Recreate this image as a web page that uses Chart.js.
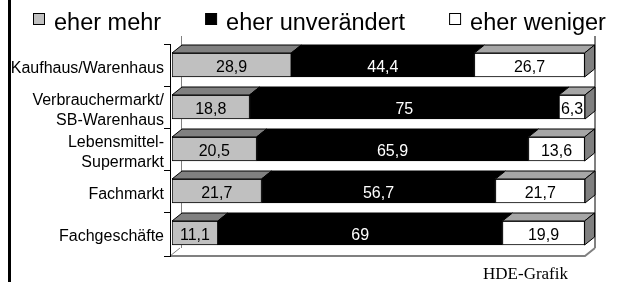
<!DOCTYPE html>
<html><head><meta charset="utf-8">
<script src="https://cdn.jsdelivr.net/npm/chart.js@4/dist/chart.umd.min.js"></script>
<style>html,body{margin:0;padding:0;background:#fff;overflow:hidden}#wrap{width:619px;height:282px;position:relative}</style>
</head><body><div id="wrap"><canvas id="c" width="619" height="282"></canvas></div>
<script>
const categories = ['Kaufhaus/Warenhaus', ['Verbrauchermarkt/', 'SB-Warenhaus'], ['Lebensmittel-', 'Supermarkt'], 'Fachmarkt', 'Fachgeschäfte'];
const seriesNames = ['eher mehr', 'eher unverändert', 'eher weniger'];
const eherMehr = [28.9, 18.8, 20.5, 21.7, 11.1];
const eherUnveraendert = [44.4, 75, 65.9, 56.7, 69];
const eherWeniger = [26.7, 6.3, 13.6, 21.7, 19.9];
const sourceLabel = 'HDE-Grafik';

const SANS = "'Liberation Sans', Arial, sans-serif";
const SERIF = "'Liberation Serif', 'Times New Roman', serif";
const fills = ['#c0c0c0', '#000000', '#ffffff'];
const topFills = ['#808080', '#000000', '#a6a6a6'];
const labelColors = ['#000', '#fff', '#000'];
const DX = 10, DY = -8;

const frame3d = {
  id: 'frame3d',
  beforeDatasetsDraw(chart) {
    const ctx = chart.ctx, a = chart.chartArea;
    const floorY = a.bottom + 2;
    ctx.save();
    ctx.strokeStyle = '#808080';
    ctx.lineWidth = 1;
    ctx.beginPath();
    ctx.moveTo(a.left + DX - 0.5, a.top + DY);
    ctx.lineTo(a.left + DX - 0.5, floorY + DY);
    ctx.stroke();
    ctx.lineWidth = 2;
    ctx.beginPath();
    ctx.moveTo(a.right + DX, a.top + DY);
    ctx.lineTo(a.right + DX, floorY + DY);
    ctx.stroke();
    ctx.lineWidth = 2;
    ctx.beginPath();
    ctx.moveTo(a.left - 2, floorY);
    ctx.lineTo(a.right, floorY);
    ctx.lineTo(a.right + DX, floorY + DY);
    ctx.stroke();
    ctx.lineWidth = 1;
    ctx.beginPath();
    ctx.moveTo(a.left - 2, floorY);
    ctx.lineTo(a.left + DX - 2, floorY + DY);
    ctx.stroke();
    ctx.strokeStyle = '#000';
    ctx.lineWidth = 1;
    ctx.beginPath();
    ctx.moveTo(a.left - 1.5, a.top);
    ctx.lineTo(a.left - 1.5, floorY + 1);
    const n = chart.data.labels.length;
    for (let i = 0; i <= n; i++) {
      const y = Math.round(a.top + i * (a.bottom - a.top) / n) + 0.5 + (i === n ? 2 : 0);
      ctx.moveTo(a.left - 8, y);
      ctx.lineTo(a.left - 1, y);
    }
    ctx.stroke();
    ctx.restore();
  },
  afterDatasetsDraw(chart) {
    const ctx = chart.ctx;
    const nd = chart.data.datasets.length;
    const metas = chart.data.datasets.map((d, i) => chart.getDatasetMeta(i));
    ctx.save();
    ctx.lineWidth = 1;
    ctx.strokeStyle = '#000';
    const n = chart.data.labels.length;
    for (let j = 0; j < n; j++) {
      for (let i = 0; i < nd; i++) {
        const el = metas[i].data[j];
        const xl = Math.min(el.base, el.x), xr = Math.max(el.base, el.x);
        const top = el.y - el.height / 2;
        const bot = el.y + el.height / 2;
        ctx.fillStyle = topFills[i];
        ctx.beginPath();
        ctx.moveTo(xl, top);
        ctx.lineTo(xl + DX, top + DY);
        ctx.lineTo(xr + DX, top + DY);
        ctx.lineTo(xr, top);
        ctx.closePath();
        ctx.fill();
        ctx.stroke();
        if (i === nd - 1) {
          ctx.fillStyle = '#808080';
          ctx.beginPath();
          ctx.moveTo(xr, top);
          ctx.lineTo(xr + DX, top + DY);
          ctx.lineTo(xr + DX, bot + DY);
          ctx.lineTo(xr, bot);
          ctx.closePath();
          ctx.fill();
          ctx.stroke();
        }
      }
    }
    ctx.font = '16px ' + SANS;
    ctx.textAlign = 'center';
    ctx.textBaseline = 'middle';
    for (let i = 0; i < nd; i++) {
      const ds = chart.data.datasets[i];
      metas[i].data.forEach((el, j) => {
        const v = ds.data[j];
        ctx.fillStyle = labelColors[i];
        ctx.fillText(String(v).replace('.', ','), (el.base + el.x) / 2, el.y + 3);
      });
    }
    ctx.restore();
  },
  afterDraw(chart) {
    const ctx = chart.ctx;
    ctx.save();
    ctx.fillStyle = '#000';
    ctx.fillRect(8, 0, 3, chart.height);
    ctx.font = '23.5px ' + SANS;
    ctx.textBaseline = 'alphabetic';
    ctx.textAlign = 'left';
    let x = 33;
    chart.data.datasets.forEach((ds, i) => {
      ctx.fillStyle = ds.backgroundColor;
      ctx.fillRect(x + 0.5, 13.5, 11, 11);
      ctx.strokeStyle = '#000';
      ctx.lineWidth = 1;
      ctx.strokeRect(x + 0.5, 13.5, 11, 11);
      ctx.fillStyle = '#000';
      ctx.fillText(ds.label, x + 21, 30);
      x += 21 + ctx.measureText(ds.label).width + 44;
    });
    ctx.font = '17px ' + SERIF;
    ctx.textAlign = 'right';
    ctx.fillText(sourceLabel, 568, 279);
    ctx.restore();
  }
};

const seriesValues = [eherMehr, eherUnveraendert, eherWeniger];
new Chart(document.getElementById('c'), {
  type: 'bar',
  data: {
    labels: categories,
    datasets: seriesNames.map((name, i) => ({
      label: name,
      data: seriesValues[i],
      backgroundColor: fills[i],
      borderColor: '#000',
      borderWidth: 1,
      borderSkipped: false,
      barThickness: 24
    }))
  },
  options: {
    indexAxis: 'y',
    responsive: false,
    animation: false,
    devicePixelRatio: 1,
    layout: { padding: { top: 44, bottom: 28, left: 0, right: 34 } },
    scales: {
      x: { stacked: true, min: 0, max: 100.1, display: false },
      y: {
        stacked: true,
        grid: { display: false, drawTicks: false },
        border: { display: false },
        ticks: { color: '#000', autoSkip: false, font: { family: SANS, size: 16, lineHeight: 1.25 }, padding: 8, labelOffset: 4 },
        afterFit(s) { s.width = 172; }
      }
    },
    plugins: { legend: { display: false }, tooltip: { enabled: false } }
  },
  plugins: [frame3d]
});
</script>
</body></html>
